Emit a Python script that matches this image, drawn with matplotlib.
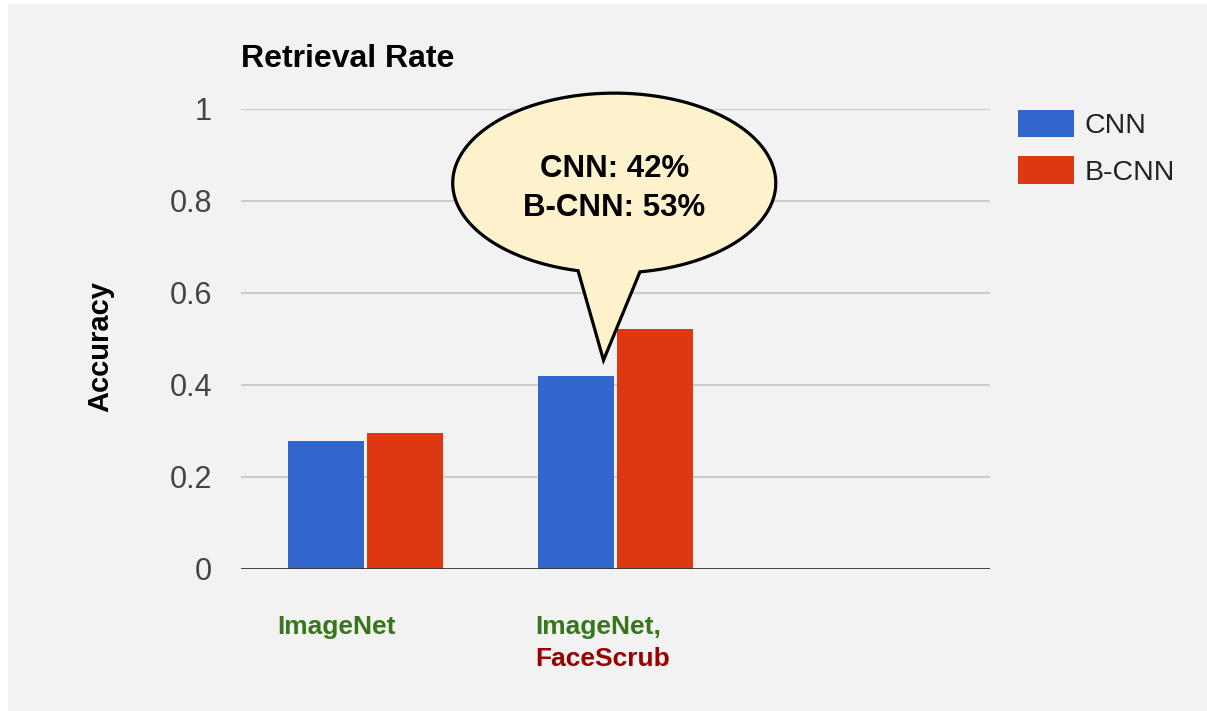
import numpy as np
import matplotlib
matplotlib.use("Agg")
import matplotlib.pyplot as plt
from matplotlib.patches import Rectangle, PathPatch
from matplotlib.path import Path
from matplotlib.transforms import blended_transform_factory

plt.rcParams['font.family'] = ['Liberation Sans', 'DejaVu Sans']

# ---- data ----
categories = ["ImageNet", "ImageNet,\nFaceScrub", ""]
series_names = ["CNN", "B-CNN"]
cnn = [0.278, 0.42, None]
bcnn = [0.296, 0.522, None]
yticks = [0, 0.2, 0.4, 0.6, 0.8, 1]
ytick_labels = ["0", "0.2", "0.4", "0.6", "0.8", "1"]
bubble_lines = ["CNN: 42%", "B-CNN: 53%"]

W, H = 1207, 711
fig = plt.figure(figsize=(W / 100, H / 100), dpi=100, facecolor="white")
fig.patches.append(Rectangle((8 / W, 0), 1 - 8 / W, 707 / H, transform=fig.transFigure,
                             facecolor="#f2f2f2", edgecolor="none", zorder=-10))

ax = fig.add_axes([241 / W, (H - 569) / H, (990 - 241) / W, (569 - 109) / H])
ax.set_facecolor("none")

x = np.arange(len(categories))
bw = 0.305
off = 0.158
cv = [np.nan if v is None else v for v in cnn]
bv = [np.nan if v is None else v for v in bcnn]
ax.bar(x - off, cv, width=bw, color="#3366cc", label=series_names[0], zorder=3)
ax.bar(x + off, bv, width=bw, color="#dc3912", label=series_names[1], zorder=3)

ax.set_xlim(-0.5, len(categories) - 0.5)
ax.set_ylim(0, 1)
ax.set_yticks(yticks)
ax.set_yticklabels(ytick_labels, fontsize=22, color="#444444")
ax.tick_params(axis="y", length=0, pad=21)
ax.set_xticks([])
for s in ax.spines.values():
    s.set_visible(False)
for t in yticks[1:]:
    ax.axhline(t, color="#cccccc", lw=1.5, zorder=1)
ax.axhline(0, color="#333333", lw=2, zorder=4)

# title and axis label
fig.text(241 / W, 1 - 67 / H, "Retrieval Rate", fontsize=23, fontweight="bold",
         color="#000000", ha="left", va="baseline")
fig.text(100 / W, 1 - 347 / H, "Accuracy", fontsize=21, fontweight="bold",
         rotation=90, ha="center", va="center", color="#000000")

# category labels
tr = blended_transform_factory(ax.transData, fig.transFigure)
ax.text(x[0] - 0.356, 1 - 634 / H, "ImageNet", transform=tr, fontsize=19,
        fontweight="bold", color="#38761d", ha="left", va="baseline")
ax.text(x[1] - 0.323, 1 - 634 / H, "ImageNet,", transform=tr, fontsize=19,
        fontweight="bold", color="#38761d", ha="left", va="baseline")
ax.text(x[1] - 0.323, 1 - 666 / H, "FaceScrub", transform=tr, fontsize=19,
        fontweight="bold", color="#990000", ha="left", va="baseline")

# legend
leg = ax.legend(loc="upper left", bbox_to_anchor=(1018 / W, 1 - 110 / H),
                bbox_transform=fig.transFigure, frameon=False, fontsize=20.5,
                handlelength=1.95, handleheight=1.1, handletextpad=0.38,
                labelspacing=0.6, borderpad=0, borderaxespad=0)
for t in leg.get_texts():
    t.set_color("#222222")

# speech bubble annotation (data coords, anchored to the 2nd group)
cx, cy = x[1] - 0.005, 0.839
a, b = 0.647, 0.1955
tip = (x[1] - off + 0.11, cnn[1] + 0.034)
tl = -np.pi / 2 - np.arcsin(0.224)
trr = -np.pi / 2 + np.arcsin(0.159)
ts = np.linspace(trr, tl + 2 * np.pi, 300)
verts = [(cx + a * np.cos(t), cy + b * np.sin(t)) for t in ts]
verts.append(tip)
verts.append(verts[0])
codes = [Path.MOVETO] + [Path.LINETO] * (len(verts) - 2) + [Path.CLOSEPOLY]
bubble = PathPatch(Path(verts, codes), facecolor="#fef2cc", edgecolor="black",
                   lw=2.3, zorder=6, clip_on=False, joinstyle="miter")
ax.add_patch(bubble)
ax.text(cx, cy + 0.031, bubble_lines[0], fontsize=22.5, fontweight="bold",
        ha="center", va="center", zorder=7)
ax.text(cx, cy - 0.054, bubble_lines[1], fontsize=22.5, fontweight="bold",
        ha="center", va="center", zorder=7)

fig.savefig("out.png", dpi=100, facecolor=fig.get_facecolor())
